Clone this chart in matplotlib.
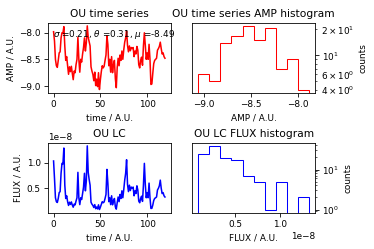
import numpy as np
import matplotlib
matplotlib.use("Agg")
import matplotlib.pyplot as plt

time = np.arange(120)
amp = [
    -7.985, -8.16, -8.50, -8.62, -8.65, -8.52, -8.38, -8.36, -8.10, -8.005,
    -8.01, -7.89, -8.25, -8.52, -8.45, -8.62, -8.78, -8.64, -8.73, -8.63,
    -8.76, -8.88, -8.72, -8.75, -8.60, -8.50, -8.09, -8.50, -8.74, -8.50,
    -8.55, -8.40, -8.28, -8.10, -8.345, -8.19, -7.876, -8.09, -8.17, -8.25,
    -8.64, -8.72, -8.78, -8.90, -8.74, -8.99, -8.87, -9.01, -8.75, -9.064,
    -8.88, -8.73, -8.62, -8.66, -8.63, -8.52, -8.42, -8.06, -8.22, -8.62,
    -8.50, -8.74, -8.45, -8.75, -8.60, -8.52, -8.86, -9.03, -8.65, -8.48,
    -8.62, -8.42, -8.52, -8.345, -8.50, -8.32, -8.18, -8.10, -7.975, -8.24,
    -8.36, -8.25, -8.34, -8.28, -8.30, -8.28, -8.45, -8.345, -8.40, -8.26,
    -8.33, -8.60, -8.66, -8.52, -8.46, -8.61, -8.25, -8.005, -8.24, -8.50,
    -8.38, -8.50, -8.22, -8.50, -8.97, -8.96, -8.76, -8.58, -8.52, -8.50,
    -8.48, -8.33, -8.30, -8.26, -8.18, -8.30, -8.40, -8.38, -8.45, -8.48,
]
amp = np.array(amp)
flux = 10 ** amp

sigma, theta, mu = 0.21, 0.31, -8.49

plt.rcParams['font.size'] = 8.6

dpi = 74
fig, axes = plt.subplots(2, 2, figsize=(374 / dpi, 249 / dpi), dpi=dpi)
fig.subplots_adjust(left=48 / 374, right=315 / 374, top=1 - 22.7 / 249,
                    bottom=1 - 212.7 / 249, wspace=0.179, hspace=0.714)

ax = axes[0, 0]
ax.plot(time, amp, color='red')
ax.set_title('OU time series')
ax.set_xlabel('time / A.U.')
ax.set_ylabel('AMP / A.U.')
ax.text(0.04, 0.80, r'$\sigma$ =%.2f, $\theta$ =%.2f, $\mu$ =%.2f' % (sigma, theta, mu),
        transform=ax.transAxes)

ax = axes[0, 1]
ax.hist(amp, bins=10, histtype='step', color='red', log=True)
ax.set_title('OU time series AMP histogram')
ax.set_xlabel('AMP / A.U.')
ax.set_ylabel('counts')
ax.yaxis.tick_right()
ax.yaxis.set_label_position('right')

ax = axes[1, 0]
ax.plot(time, flux, color='blue')
ax.set_title('OU LC')
ax.set_xlabel('time / A.U.')
ax.set_ylabel('FLUX / A.U.')

ax = axes[1, 1]
ax.hist(flux, bins=10, histtype='step', color='blue', log=True)
ax.set_title('OU LC FLUX histogram')
ax.set_xlabel('FLUX / A.U.')
ax.set_ylabel('counts')
ax.yaxis.tick_right()
ax.yaxis.set_label_position('right')

fig.savefig('out.png', dpi=dpi)
